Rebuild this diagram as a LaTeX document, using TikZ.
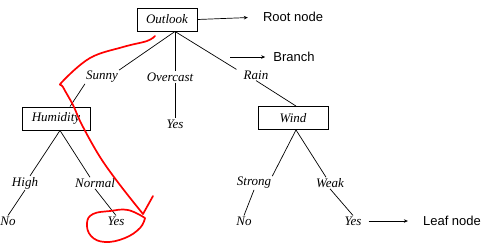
\documentclass[tikz,border=0pt]{standalone}
\usepackage{fontspec}
\setmainfont{Liberation Serif}
\newfontfamily\notefont{Liberation Sans}
\usetikzlibrary{arrows.meta}

\begin{document}
\begin{tikzpicture}[x=1pt,y=-1pt,>={Stealth[length=4pt,width=3.5pt]},
    box/.style={draw,line width=0.9pt,minimum height=23pt,inner sep=2pt,font=\fontsize{13}{15}\selectfont\itshape},
    lbl/.style={inner sep=1pt,font=\fontsize{13}{15}\selectfont\itshape},
    note/.style={inner sep=1pt,font=\notefont\fontsize{13}{15}\selectfont},
    edge/.style={line width=0.7pt},
    pen/.style={red,line width=1.7pt,line cap=round,line join=round}]
  \useasboundingbox (0,0) rectangle (486,242);
  % decision nodes
  \node[box,minimum width=60pt] (outlook) at (167,19.5) {Outlook};
  \node[box,minimum width=68pt] (humidity) at (56,118.5) {Humidity};
  \node[box,minimum width=70pt] (wind) at (293,118) {Wind};
  % branch labels and leaves
  \node[lbl] (sunny) at (102,77) {Sunny};
  \node[lbl] (overcast) at (170,77) {Overcast};
  \node[lbl] (rain) at (256,75) {Rain};
  \node[lbl] (yes1) at (175,124) {Yes};
  \node[lbl] (high) at (25,183) {High};
  \node[lbl] (normal) at (95,183) {Normal};
  \node[lbl] (no1) at (8,221) {No};
  \node[lbl] (yes2) at (116,221) {Yes};
  \node[lbl] (strong) at (254,183) {Strong};
  \node[lbl] (weak) at (330,183) {Weak};
  \node[lbl] (no2) at (244,221) {No};
  \node[lbl] (yes3) at (353,221) {Yes};
  % notes
  \node[note] (root) at (293,17) {Root node};
  \node[note] (branch) at (294,57) {Branch};
  \node[note] (leaf) at (452,221) {Leaf node};
  \coordinate (br) at (230,57);

  \draw[edge] ([xshift=8pt]outlook.south) -- (sunny.north east);
  \draw[edge] ([xshift=8pt]outlook.south) -- ([xshift=5pt]overcast.north);
  \draw[edge] ([xshift=8pt]outlook.south) -- ([xshift=-6pt]rain.north west);
  \draw[edge] (sunny.south west) -- ([xshift=14pt]humidity.north);
  \draw[edge] ([xshift=5pt]overcast.south) -- (yes1.north);
  \draw[edge] (rain.south) -- ([xshift=3pt]wind.north);
  \draw[edge] ([xshift=4pt]humidity.south) -- ([xshift=5pt]high.north);
  \draw[edge] ([xshift=4pt]humidity.south) -- ([xshift=-5pt]normal.north);
  \draw[edge] (high.south) -- (no1.north);
  \draw[edge] (normal.south) -- (yes2.north);
  \draw[edge] ([xshift=3pt]wind.south) -- (strong.north east);
  \draw[edge] ([xshift=3pt]wind.south) -- ([xshift=-4pt]weak.north);
  \draw[edge] (strong.south) -- (no2.north);
  \draw[edge] (weak.south) -- (yes3.north);

  \draw[edge,->,shorten >=14pt] (outlook.east) -- (root.west);
  \draw[edge,->,shorten >=7pt] (br) -- (branch.west);
  \draw[edge,->,shorten <=6pt,shorten >=14pt] (yes3.east) -- (leaf.west);

  % red pen marks
  \draw[pen] plot[smooth,tension=0.6] coordinates {(155,36) (147,41) (123,47) (90,58) (62,82) (63,87) (73,105) (82,125) (100,157) (120,185) (143,214)};
  \draw[pen] (143,214) -- (153,196);
  \draw[pen] plot[smooth,tension=0.7] coordinates {(145,218) (128,210) (110,211) (93,214) (87,223) (91,236) (105,242) (125,238) (140,228) (145,218)};
\end{tikzpicture}
\end{document}
